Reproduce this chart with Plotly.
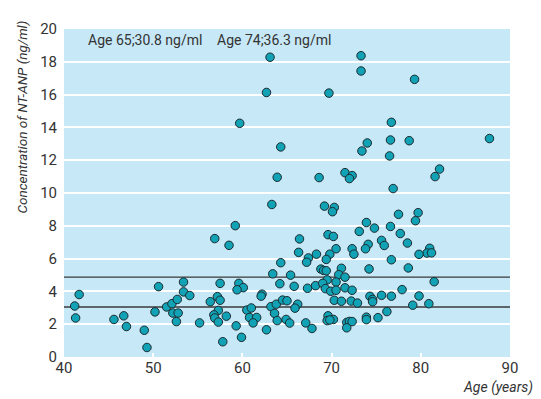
import plotly.graph_objects as go

age = [41.7, 41.2, 41.3, 45.6, 46.7, 47.0, 49.0, 49.3, 50.6, 50.2, 51.5, 52.1, 52.7, 53.4, 53.4, 54.1,
       52.2, 52.8, 52.6, 55.2, 59.2, 56.9, 58.5, 66.4, 66.3, 64.3, 63.4, 65.4, 64.2, 65.8, 57.5, 59.6,
       60.1, 59.4, 62.2, 62.1, 57.2, 57.5, 56.4, 57.3, 56.8, 56.9, 57.3, 58.2, 59.3, 57.8, 59.9, 60.5,
       61.0, 60.8, 61.6, 61.2, 62.7, 63.2, 63.8, 63.6, 63.9, 64.5, 65.0, 64.9, 65.3, 66.2, 65.9, 67.1,
       67.8, 63.3, 67.4, 67.2, 68.3, 67.3, 68.2, 68.8, 69.1, 69.4, 69.2, 70.3, 70.1, 77.5, 73.9, 74.8,
       76.6, 73.1, 77.7, 69.6, 70.2, 75.6, 75.9, 74.1, 73.8, 72.3, 72.5, 70.5, 69.8, 69.4, 76.7, 71.1,
       70.8, 71.5, 74.2, 69.5, 69.0, 70.5, 69.3, 69.9, 70.5, 71.5, 72.3, 77.9, 75.6, 76.7, 74.3, 74.6,
       74.6, 70.3, 71.1, 72.2, 72.9, 76.2, 75.2, 73.9, 73.9, 69.6, 69.5, 70.2, 69.8, 71.7, 72.0, 72.3,
       71.7, 78.5, 79.7, 79.4, 81.0, 80.7, 81.2, 79.8, 78.6, 81.5, 79.8, 79.1, 80.9, 87.7, 78.7, 82.1,
       81.6, 76.9, 73.3, 73.3, 79.3, 69.7, 76.7, 76.6, 74.0, 73.4, 76.5, 71.5, 72.3, 72.0, 68.6, 63.1,
       62.7, 59.7, 64.3, 63.9]
conc = [3.81, 3.11, 2.38, 2.29, 2.51, 1.86, 1.63, 0.58, 4.29, 2.75, 3.05, 3.25, 3.51, 4.57, 3.97, 3.75,
        2.68, 2.68, 2.16, 2.08, 8.01, 7.22, 6.81, 7.20, 6.38, 5.75, 5.07, 4.99, 4.47, 4.31, 4.49, 4.49,
        4.23, 4.10, 3.83, 3.71, 3.68, 3.46, 3.37, 2.84, 2.57, 2.38, 2.13, 2.49, 1.90, 0.93, 1.20, 2.86,
        2.99, 2.41, 2.41, 2.08, 1.66, 3.07, 3.22, 2.66, 2.22, 3.47, 3.43, 2.29, 2.07, 3.22, 2.98, 2.08,
        1.74, 9.30, 6.04, 5.78, 6.27, 4.19, 4.35, 5.36, 5.28, 5.26, 9.20, 9.12, 8.86, 8.70, 8.20, 7.86,
        7.96, 7.66, 7.53, 7.46, 7.35, 7.11, 6.80, 6.87, 6.60, 6.60, 6.27, 6.60, 6.27, 5.95, 5.93, 5.41,
        5.02, 4.87, 5.37, 4.70, 4.49, 4.57, 4.17, 4.01, 4.07, 4.22, 4.07, 4.11, 3.76, 3.71, 3.70, 3.51,
        3.37, 3.46, 3.40, 3.41, 3.29, 2.77, 2.40, 2.43, 2.28, 2.51, 2.22, 2.29, 2.26, 2.11, 2.17, 2.16,
        1.78, 6.95, 8.80, 8.31, 6.63, 6.34, 6.35, 6.26, 5.43, 4.59, 3.72, 3.16, 3.25, 13.32, 13.19, 11.46,
        11.00, 10.27, 18.37, 17.44, 16.93, 16.09, 14.31, 13.23, 13.05, 12.56, 12.26, 11.24, 11.06, 10.88, 10.94, 18.28,
        16.13, 14.25, 12.81, 10.96]

ref_lines = [4.87, 3.05]
x_ticks = [40, 50, 60, 70, 80, 90]
y_ticks = list(range(0, 21, 2))
notes = ["Age 65;30.8 ng/ml", "Age 74;36.3 ng/ml"]
note_x = [42.45, 56.9]

FONT = "Roboto, Liberation Sans, Arial, sans-serif"
TXT = "#333333"

fig = go.Figure()
fig.add_trace(go.Scatter(
    x=age, y=conc, mode="markers",
    marker=dict(size=8.5, color="#12a2b6", line=dict(color="#1b2a2e", width=1)),
    showlegend=False, hoverinfo="skip"))

for v in ref_lines:
    fig.add_shape(type="line", xref="paper", x0=0, x1=1, yref="y", y0=v, y1=v,
                  line=dict(color="#3a3a3a", width=1.3), layer="below")

for t, xx in zip(notes, note_x):
    fig.add_annotation(x=xx, y=19.35, xref="x", yref="y", text=t, showarrow=False,
                       xanchor="left", yanchor="middle",
                       font=dict(family=FONT, size=14, color=TXT))

# x-axis title, right-aligned below the axis
fig.add_annotation(x=1, xref="paper", xshift=25, y=0, yref="paper", yshift=-20,
                   text="<i>Age (years)</i>", showarrow=False, xanchor="right", yanchor="top",
                   font=dict(family=FONT, size=14, color=TXT))

# y-axis title, top-aligned, rotated
fig.add_annotation(x=0, xref="paper", xshift=-43, y=1, yref="paper", yshift=10,
                   text="<i>Concentration of NT-ANP (ng/ml)</i>", showarrow=False,
                   textangle=-90, xanchor="center", yanchor="top",
                   font=dict(family=FONT, size=13.5, color=TXT))

fig.update_layout(
    width=533, height=391,
    margin=dict(l=56, r=31, t=15, b=42),
    paper_bgcolor="white", plot_bgcolor="#c7e8f7",
    font=dict(family=FONT, size=15, color=TXT),
    xaxis=dict(range=[40, 90], tickvals=x_ticks, showgrid=False, zeroline=False,
               ticks="inside", ticklen=4, tickwidth=2, tickcolor="white",
               showline=False, tickfont=dict(size=15, color=TXT)),
    yaxis=dict(range=[0, 20], tickvals=y_ticks, showgrid=True, gridcolor="white", gridwidth=2,
               zeroline=False, showline=False, ticks="", ticklabelstandoff=6,
               tickfont=dict(size=15, color=TXT)),
)

fig.write_html("out.html")
